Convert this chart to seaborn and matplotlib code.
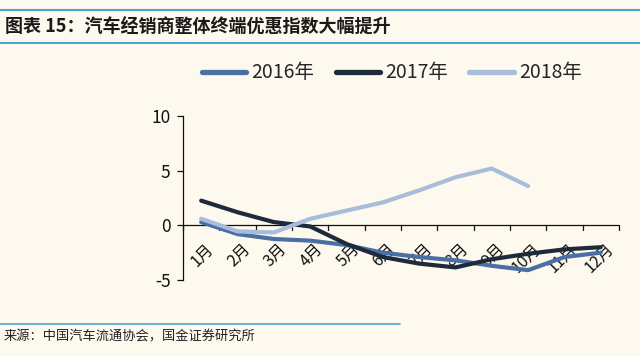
import numpy as np
import pandas as pd
import matplotlib
matplotlib.use("Agg")
import matplotlib.pyplot as plt
import seaborn as sns
from matplotlib.lines import Line2D

months = ["1月", "2月", "3月", "4月", "5月", "6月", "7月", "8月", "9月", "10月", "11月", "12月"]
v2016 = [0.3, -0.8, -1.25, -1.4, -1.8, -2.5, -2.9, -3.2, -3.7, -4.1, -2.9, -2.5]
v2017 = [2.26, 1.2, 0.3, -0.1, -1.7, -2.9, -3.5, -3.85, -3.1, -2.6, -2.2, -2.0]
v2018 = [0.6, -0.55, -0.65, 0.6, 1.35, 2.1, 3.2, 4.4, 5.2, 3.6]
series_names = ["2016年", "2017年", "2018年"]
colors = ["#4a6fa5", "#1c2a3c", "#a9bcdc"]

rows = []
for name, vals in zip(series_names, [v2016, v2017, v2018]):
    for i, v in enumerate(vals):
        rows.append({"pos": i, "月份": months[i], "值": v, "年份": name})
df = pd.DataFrame(rows)

sns.set_theme(style="white")
plt.rcParams['font.family'] = ['Noto Sans CJK SC', 'DejaVu Sans']
bg = "#fdf9ee"

fig = plt.figure(figsize=(6.4, 3.56), dpi=100, facecolor=bg)
ax = fig.add_axes([0.286, 0.2135, 0.681, 0.4605])
ax.set_facecolor(bg)

sns.lineplot(data=df, x="pos", y="值", hue="年份", palette=colors,
             hue_order=series_names, linewidth=3.0, ax=ax, legend=False,
             solid_capstyle="round", solid_joinstyle="round", sort=False, zorder=3)

ax.set_xlim(-0.5, 11.5)
ax.set_ylim(-5, 10)
ax.set_yticks([-5, 0, 5, 10])
ax.set_yticklabels(["-5", "0", "5", "10"], fontsize=12.5, color="#111111")
for s in ["top", "right", "bottom"]:
    ax.spines[s].set_visible(False)
ax.spines["left"].set_color("#111111")
ax.spines["left"].set_linewidth(0.9)
ax.tick_params(axis="y", direction="out", length=4, width=0.9, color="#111111", pad=5, left=True)

# x axis drawn at y=0
ax.axhline(0, color="#111111", linewidth=0.9, zorder=1)
for xb in np.arange(-0.5, 12.0, 1.0):
    ax.plot([xb, xb], [0, -0.45], color="#111111", linewidth=0.9, zorder=1, clip_on=False)
ax.set_xticks(range(12))
ax.set_xticklabels([])
ax.tick_params(axis="x", which="major", length=0, bottom=False)
for i, m in enumerate(months):
    ax.text(i + 0.12, -1.4, m, rotation=45, ha="right", va="top", rotation_mode="anchor",
            fontsize=11.5, color="#111111", zorder=1)
ax.set_xlabel("")
ax.set_ylabel("")
ax.grid(False)

# legend
handles = [Line2D([0], [0], color=c, linewidth=3.8, solid_capstyle="round") for c in colors]
fig.legend(handles, series_names, loc="center", bbox_to_anchor=(0.612, 0.795), ncol=3,
           frameon=False, fontsize=14, handlelength=2.3, columnspacing=1.1, handletextpad=0.25)

# title and lines
fig.add_artist(Line2D([0.0, 1.0], [1 - 10/356, 1 - 10/356], color="#4fa3d1", linewidth=1.5))
fig.add_artist(Line2D([0.0, 1.0], [1 - 43/356, 1 - 43/356], color="#4fa3d1", linewidth=1.5))
fig.text(0.008, 1 - 27/356, "图表 15：汽车经销商整体终端优惠指数大幅提升", fontsize=13,
         fontweight="bold", style="italic", va="center", ha="left", color="#1a1a1a")
fig.add_artist(Line2D([0.0, 0.625], [1 - 324/356, 1 - 324/356], color="#4fa3d1", linewidth=1.2))
fig.text(0.005, 1 - 337/356, "来源：中国汽车流通协会，国金证券研究所", fontsize=9.5,
         va="center", ha="left", color="#222222")

fig.savefig("out.png", dpi=100, facecolor=bg)
